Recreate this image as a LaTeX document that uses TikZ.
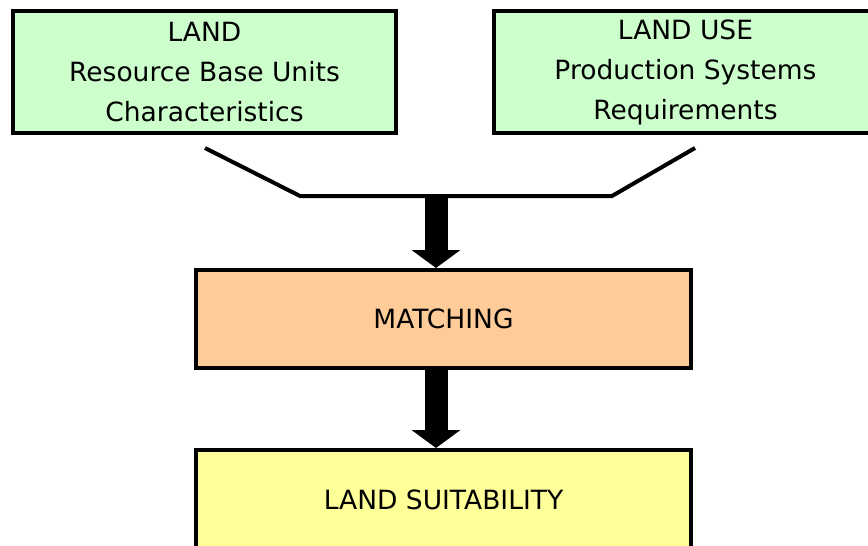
\documentclass[tikz,border=0pt]{standalone}
\usepackage{fontspec}
\setmainfont{DejaVu Sans}
\usetikzlibrary{arrows.meta}

\definecolor{landgreen}{HTML}{CCFFCC}
\definecolor{matchorange}{HTML}{FFCC99}
\definecolor{suityellow}{HTML}{FFFF99}

\begin{document}
\begin{tikzpicture}[x=1pt, y=-1pt,
  every node/.style = {shape=rectangle, draw, line width=4pt,
    align=center, inner sep=0pt,
    font=\fontsize{26.5}{40}\selectfont},
  inputbox/.style = {fill=landgreen, minimum width=383pt, minimum height=122pt},
  stagebox/.style = {minimum width=495pt, minimum height=98pt},
  joinline/.style = {line width=4pt},
  fatarrow/.style = {line width=23pt, -{Triangle[width=48pt, length=18pt]}}
  ]
  \useasboundingbox (0,0) rectangle (868,546);
  \clip (0,0) rectangle (868,546);

  \node [inputbox] (land) at (204.5,72) {LAND\\Resource Base Units\\Characteristics};
  \node [inputbox] (landuse) at (685.5,72) {LAND USE\\Production Systems\\Requirements};
  \node [stagebox, fill=matchorange] (match) at (443.5,319) {MATCHING};
  \node [stagebox, fill=suityellow, minimum height=100pt] (suit) at (443.5,500) {LAND SUITABILITY};

  % joining lines under the two inputs
  \coordinate (lstart) at (205,148);
  \coordinate (lbend) at (300,196);
  \coordinate (rbend) at (612,196);
  \coordinate (rstart) at (695,148);
  \coordinate (drop) at (436,194);
  \draw [joinline] (lstart) -- (lbend) -- (rbend) -- (rstart);

  \draw [fatarrow] (drop) -- (drop |- match.north);
  \draw [fatarrow] (match.south -| drop) -- (drop |- suit.north);
\end{tikzpicture}
\end{document}
